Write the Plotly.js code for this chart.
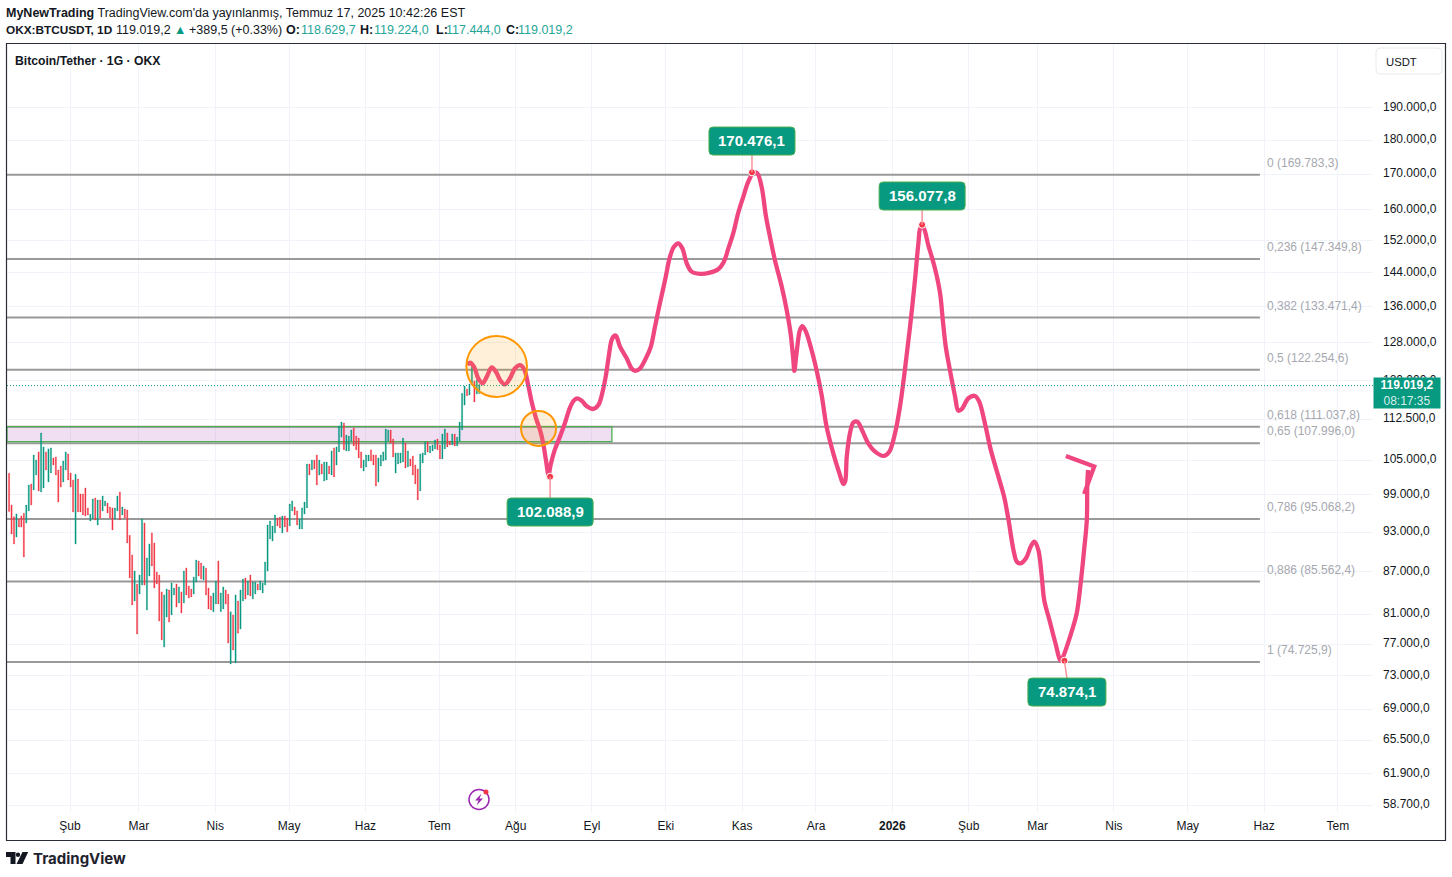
<!DOCTYPE html>
<html lang="tr"><head><meta charset="utf-8">
<script src="https://cdn.plot.ly/plotly-3.0.1.min.js"></script>
<style>html,body{margin:0;padding:0;background:#fff}#c{width:1452px;height:877px}</style></head>
<body><div id="c"></div>
<script>
const FONT = '"Liberation Sans", Arial, sans-serif';
const UP = '#089981', DOWN = '#F23645', PINK = '#EF4680', ORANGE = '#FF9800';

// Daily candles, first bar 2025-01-07, one per day
const firstBar = Date.UTC(2025, 0, 7, 6);
const highs = [102690,97340,95450,95880,95020,95560,95990,97340,100680,100850,
105900,105010,106450,109900,107350,106450,106990,107170,105370,105550,
103260,103950,104830,106450,106090,102740,101530,102520,101700,99170,
99170,100170,96860,95830,98330,98500,98170,98170,98840,98000,
97670,97020,96860,96860,98840,99500,97020,96700,96530,92490,
89480,87100,85210,86510,95070,94430,89030,91160,92870,91310,
86950,86510,84080,83650,84500,84360,85350,84640,85210,84780,
84080,87100,87540,84920,84500,86220,88710,88560,88270,87840,
87540,84640,83510,83940,85640,88560,83940,84780,84360,83790,
81300,80880,83650,82800,
84360,85930,86080,85640,86510,85490,85490,85210,85640,85350,
88420,94120,94750,93960,95720,95230,95390,95560,95560,95230,
97500,98000,97020,96370,95070,96860,97830,104300,104300,105000,
105000,105900,105000,104300,104650,104650,103950,106630,107170,107350,
111200,111940,111750,109500,109320,110450,110820,109320,108960,106450,105000,
105900,105900,106810,105900,105900,105370,105900,106450,110640,110450,
110450,108780,106270,106270,106270,108960,108060,106630,105190,105720,
104130,103430,106090,106270,108240,108240,107530,107710,108600,108780,
107710,109700,110640,109900,108420,109700,109700,109130,111940,117480,
118950,118360,119330,123230,119940,120150,119224];
const lows = [96260,92690,91160,92240,93810,93810,89180,94430,96370,97340,
99840,102390,99670,99500,100170,103260,101180,102740,104130,102390,
97830,100350,101180,103260,101530,100350,96200,91160,96200,96200,
95720,95560,95720,94750,95070,94910,94120,95230,96370,97180,
96040,95230,93340,95070,96370,94910,95720,95230,91310,86080,
82250,82800,78330,83790,85070,85070,81570,86370,87840,84640,
85210,80060,77530,76630,80600,79920,80880,83650,81970,82520,
81160,82520,83650,83230,83370,83790,85490,86370,85930,85780,
83650,81700,81570,81300,82380,82380,81300,81700,82380,77140,
74480,76240,74600,78440,
79000,82800,83090,83650,83510,83090,83790,84360,84360,83940,
85070,87100,91930,91620,92870,93960,93650,92870,93810,93030,
93960,96370,95720,94120,93500,93500,95880,96860,102390,103260,
103430,100680,102390,102560,101350,101530,102560,102390,102050,104130,
106450,109130,106810,106630,106630,108420,107530,106810,105370,103610,103080,
103780,104830,104830,104130,100510,101180,103950,104830,105000,108420,
108060,105550,102740,104300,104480,104650,103610,103780,103950,102390,
100850,98170,99670,104480,105900,106450,106270,106630,106990,106810,
105190,105190,106990,107350,107710,107710,107530,107530,108420,110450,
115190,116990,117170,119130,115780,117340,117444];
const barColors = 'RRRGRRRGGR'+'GGRGGRGGRR'+'RRGGRRRGRR'+'RRRGGRGRGG'+'RRRGGRGRRR'+'RGRGGRGGRR'+'RRRGGRGGRG'+'RGRRRGGRRG'+'RRRGGRGGRR'+'GRGR'
 +'GGRGRGGRGG'+'GGGGGRRGRR'
 +'GGRRGGGGRG'+'RRGRGGRGRG'+'GGRGGGRRRRG'
 +'GGRRRGGGGG'+'RRGGGGRGRR'+'RRGGGRGGGR'
 +'RGGRRGRGGG'+'GRGGRGG';

// Hand-drawn forecast path: days after 2025-02-01 and price
const curveDays = [161.4,162.5,164.1,165.8,167.6,169.3,171.3,173.0,174.9,176.7,178.7,180.7,182.8,184.5,186.1,187.5,189.3,190.9,192.2,193.3,194.4,
195.2,196.9,199.0,201.0,203.0,204.6,206.0,207.8,209.8,212.5,214.6,216.3,217.7,219.0,220.0,221.1,221.8,223.4,226.1,228.1,229.6,231.5,233.9,235.9,237.6,239.6,241.7,243.7,245.3,247.1,248.7,250.5,252.5,255.9,259.9,263.3,265.6,267.4,269.4,271.4,273.5,275.5,277.5,279.1,280.9,282.7,284.3,286.3,289.1,291.1,292.7,293.8,294.2,
295.1,296.5,297.5,298.9,301.2,303.5,305.3,307.3,310.0,312.5,314.1,314.8,315.5,316.8,318.2,319.8,322.0,324.2,327.0,330.6,332.8,335.1,337.1,339.1,341.2,343.2,344.6,345.5,346.6,348.6,351.3,353.4,354.5,355.7,357.4,359.5,360.8,362.2,364.9,367.6,369.3,371.6,374.0,377.1,379.4,381.2,383.2,384.6,386.1,388.3,390.2,391.7,393.3,394.7,395.7,398.0,400.1,402.4,403.4,406.2,408.9,410.5,411.9,413.0,413.2,413.5];
const curvePrices = [123210,123700,122850,120500,119480,120830,122720,121820,120000,119270,120500,122510,123210,122300,119130,115840,112650,110460,108000,105010,102390,
104130,106810,109200,111700,114600,116040,116500,116040,115000,114430,115190,117750,121170,125690,128530,129470,129400,127100,124630,122510,122020,122510,124630,127060,131420,136710,142190,147900,150380,151260,150000,146250,144210,143680,143970,144800,146650,149960,153860,159180,163640,167800,170250,170250,166420,158220,152980,147070,140600,135150,129920,124270,122020,
125700,130720,131570,130340,126390,121550,117140,111070,106220,102690,100850,101230,105600,109850,111880,112000,110120,108000,106500,105730,106500,109850,114850,122200,131420,142190,151260,155300,155300,150820,145040,139060,132930,127090,122160,116830,114110,114380,116510,116970,115840,111700,106810,102100,98720,94910,90240,88460,88220,88980,90730,91510,90240,86270,82940,79960,77310,74890,75400,77970,81110,85300,90240,94910,100960,103250];
const arrowDays = [411.9,416.0,404.5];
const arrowPrices = [99170,103840,105720];

// Fibonacci retracement
const fibLevels = ['0','0,236','0,382','0,5','0,618','0,65','0,786','0,886','1'];
const fibPrices = [169783.3,147349.8,133471.4,122254.6,111037.8,107996.0,95068.2,85562.4,74725.9];
const fibLabels = ['169.783,3','147.349,8','133.471,4','122.254,6','111.037,8','107.996,0','95.068,2','85.562,4','74.725,9'];

// Pivot callouts
const pivotDays = [277.0,346.1,195.0,403.9];
const pivotPrices = [170476.1,156077.8,102088.9,74874.1];
const pivotLabels = ['170.476,1','156.077,8','102.088,9','74.874,1'];

// Axes
const monthDates = ['2025-02-01','2025-03-01','2025-04-01','2025-05-01','2025-06-01','2025-07-01','2025-08-01','2025-09-01','2025-10-01','2025-11-01','2025-12-01','2026-01-01','2026-02-01','2026-03-01','2026-04-01','2026-05-01','2026-06-01','2026-07-01'];
const monthLabels = ['Şub','Mar','Nis','May','Haz','Tem','Ağu','Eyl','Eki','Kas','Ara','<b>2026</b>','Şub','Mar','Nis','May','Haz','Tem'];
const priceTicks = [190000,180000,170000,160000,152000,144000,136000,128000,120000,112500,105000,99000,93000,87000,81000,77000,73000,69000,65500,61900,58700];
const priceLabels = ['190.000,0','180.000,0','170.000,0','160.000,0','152.000,0','144.000,0','136.000,0','128.000,0','120.000,0','112.500,0','105.000,0','99.000,0','93.000,0','87.000,0','81.000,0','77.000,0','73.000,0','69.000,0','65.500,0','61.900,0','58.700,0'];
const lastPrice = 119019.2;

const dayToDate = d => new Date(Date.UTC(2025,1,1) + d*864e5).toISOString().slice(0,19).replace('T',' ');
const barDates = highs.map((_,i) => new Date(firstBar + i*864e5).toISOString().slice(0,19).replace('T',' '));
const opens = highs.map((h,i) => barColors[i]==='G' ? lows[i] : h);
const closes = highs.map((h,i) => barColors[i]==='G' ? h : lows[i]);

const L=7,T=44,R=1373,B=812;
const px = x => (x-L)/(R-L), py = y => (B-y)/(B-T);
const xRange = [dayToDate(-25.59), dayToDate(529.24)];
const yRange = [Math.log10(58033), Math.log10(211620)];
const fibEnd = dayToDate(483.3);

const traces = [
 {type:'candlestick',x:barDates,open:opens,high:highs,low:lows,close:closes,whiskerwidth:0,
  increasing:{line:{color:UP,width:0.3},fillcolor:UP},decreasing:{line:{color:DOWN,width:0.3},fillcolor:DOWN},hoverinfo:'skip'},
 {type:'scatter',mode:'lines',x:curveDays.map(dayToDate),y:curvePrices,line:{color:PINK,width:4.3,shape:'spline',smoothing:1},hoverinfo:'skip'},
 {type:'scatter',mode:'lines',x:arrowDays.map(dayToDate),y:arrowPrices,line:{color:PINK,width:4.3},hoverinfo:'skip'},
 {type:'scatter',mode:'markers',x:pivotDays.map(dayToDate),y:pivotPrices,marker:{color:DOWN,size:7,line:{color:'#fff',width:1}},hoverinfo:'skip'}
];

const shapes = fibPrices.map(p=>({type:'line',layer:'between',xref:'x',yref:'y',x0:xRange[0],x1:fibEnd,y0:p,y1:p,line:{color:'#999999',width:2}}));
shapes.push(
 {type:'rect',layer:'between',xref:'x',yref:'y',x0:xRange[0],x1:dayToDate(220.1),y0:108300,y1:111070,fillcolor:'rgba(156,39,176,0.15)',line:{color:'#4CAF50',width:1.3}},
 {type:'line',layer:'above',xref:'x',yref:'y',x0:xRange[0],x1:xRange[1],y0:lastPrice,y1:lastPrice,line:{color:UP,width:1,dash:'1px,2px'}},
 {type:'circle',layer:'above',xref:'x',yref:'y',x0:dayToDate(161),x1:dayToDate(185.6),y0:116770,y1:129410,fillcolor:'rgba(255,152,0,0.15)',line:{color:ORANGE,width:2}},
 {type:'circle',layer:'above',xref:'x',yref:'y',x0:dayToDate(183.2),x1:dayToDate(197.4),y0:107530,y1:114050,fillcolor:'rgba(255,152,0,0.15)',line:{color:ORANGE,width:2}},
 {type:'rect',xref:'paper',yref:'paper',x0:px(6.5),x1:px(1445.5),y0:py(840.5),y1:py(43.5),line:{color:'#2A2E39',width:1.2},fillcolor:'rgba(0,0,0,0)',layer:'above'}
);

// rounded callout boxes anchored on their pivot through the axes
function rr(x0,y0,x1,y1,r){return `M${x0+r},${y0} L${x1-r},${y0} Q${x1},${y0} ${x1},${y0+r} L${x1},${y1-r} Q${x1},${y1} ${x1-r},${y1} L${x0+r},${y1} Q${x0},${y1} ${x0},${y1-r} L${x0},${y0+r} Q${x0},${y0} ${x0+r},${y0} Z`;}
const boxes = [[-43,17.3,43,45.3],[-43,14.7,43,42.7],[-43,-49.3,43,-21.3],[-36.5,-45.3,41.5,-17.3]];
boxes.forEach((b,i)=>{
 const d=pivotDays[i],p=pivotPrices[i];
 const cx=(b[0]+b[2])/2;
 const edge=b[1]>0?b[1]:b[3];
 shapes.push({type:'path',layer:'above',xref:'x',yref:'y',xsizemode:'pixel',ysizemode:'pixel',xanchor:dayToDate(d),yanchor:p,
   path:`M0,0 L${cx},${edge}`,line:{color:'#F7929C',width:1.5}});
 shapes.push({type:'path',layer:'above',xref:'x',yref:'y',xsizemode:'pixel',ysizemode:'pixel',xanchor:dayToDate(d),yanchor:p,
   path:rr(b[0],b[1],b[2],b[3],4),fillcolor:UP,line:{color:'#4CAF50',width:1}});
});

// logo and event icon
shapes.push(
 {type:'path',xref:'paper',yref:'paper',layer:'above',fillcolor:'#131722',line:{width:0},
  path:`M${px(6)},${py(852)} L${px(15.5)},${py(852)} L${px(15.5)},${py(864)} L${px(10.5)},${py(864)} L${px(10.5)},${py(857)} L${px(6)},${py(857)} Z`},
 {type:'circle',xref:'paper',yref:'paper',layer:'above',fillcolor:'#131722',line:{width:0},x0:px(15.8),x1:px(20.2),y0:py(857),y1:py(852.4)},
 {type:'path',xref:'paper',yref:'paper',layer:'above',fillcolor:'#131722',line:{width:0},
  path:`M${px(22.5)},${py(852)} L${px(28.2)},${py(852)} L${px(22.5)},${py(864)} L${px(16.5)},${py(864)} Z`},
 {type:'circle',xref:'paper',yref:'paper',layer:'above',fillcolor:'#fff',line:{color:'#9C27B0',width:1.5},x0:px(469),x1:px(489),y0:py(809.5),y1:py(789.5)},
 {type:'path',xref:'paper',yref:'paper',layer:'above',fillcolor:'#9C27B0',line:{width:0},
  path:`M${px(481.5)},${py(793.5)} L${px(475)},${py(800.5)} L${px(478.5)},${py(800.5)} L${px(476.5)},${py(805.5)} L${px(483)},${py(798.5)} L${px(479.5)},${py(798.5)} Z`},
 {type:'circle',xref:'paper',yref:'paper',layer:'above',fillcolor:DOWN,line:{width:0},x0:px(483.5),x1:px(488.5),y0:py(794.5),y1:py(789.5)},
 {type:'path',xref:'paper',yref:'paper',layer:'above',fillcolor:'#fff',line:{color:'#E8EAEE',width:1},
  path:`M${px(1380)},${py(48)} L${px(1438)},${py(48)} Q${px(1442)},${py(48)} ${px(1442)},${py(52)} L${px(1442)},${py(70)} Q${px(1442)},${py(74)} ${px(1438)},${py(74)} L${px(1380)},${py(74)} Q${px(1376)},${py(74)} ${px(1376)},${py(70)} L${px(1376)},${py(52)} Q${px(1376)},${py(48)} ${px(1380)},${py(48)} Z`}
);

const txt=(x,y,text,opt={})=>Object.assign({xref:'paper',yref:'paper',x:px(x),y:py(y),text,showarrow:false,xanchor:'left',yanchor:'middle',align:'left',font:{family:FONT,size:12.5,color:'#131722'}},opt);
const TEAL='#26A69A';
const tealF={font:{family:FONT,size:12.5,color:TEAL}};
const annotations = [
 txt(4,12.5,"<b>MyNewTrading</b> TradingView.com'da yayınlanmış, Temmuz 17, 2025 10:42:26 EST"),
 txt(4,29.5,'<b>OKX:BTCUSDT, 1D</b>',{font:{family:FONT,size:11.8,color:'#131722'}}),
 txt(113.5,29.5,'119.019,2'),
 txt(172,29.5,'▲',{font:{family:FONT,size:12.5,color:UP}}),
 txt(187,29.5,'+389,5 (+0.33%)'),
 txt(284,29.5,'<b>O:</b>'),txt(298.5,29.5,'118.629,7',tealF),
 txt(358.5,29.5,'<b>H:</b>'),txt(372,29.5,'119.224,0',tealF),
 txt(433.5,29.5,'<b>L:</b>'),txt(444,29.5,'117.444,0',tealF),
 txt(504,29.5,'<b>C:</b>'),txt(515.5,29.5,'119.019,2',tealF),
 txt(13,60.5,'<b>Bitcoin/Tether · 1G · OKX</b>',{font:{family:FONT,size:12.2,color:'#131722'}}),
 txt(1384,61.5,'USDT',{font:{family:FONT,size:11.3,color:'#131722'}}),
 txt(31,858,'<b>TradingView</b>',{font:{family:'Inter, '+FONT,size:15,color:'#1E222D'}}),
 {xref:'paper',yref:'paper',x:px(1407),y:py(393),text:'<b>119.019,2</b><br><span style="color:#D5EFEA">08:17:35</span>',showarrow:false,xanchor:'center',yanchor:'middle',align:'center',
  width:66,height:30,bgcolor:UP,borderpad:0,font:{family:FONT,size:12,color:'#fff'}}
];
fibLevels.forEach((lv,i)=>annotations.push({xref:'x',yref:'y',x:dayToDate(485.4),y:Math.log10(fibPrices[i]),yshift:12,showarrow:false,xanchor:'left',yanchor:'middle',
  text:`${lv} (${fibLabels[i]})`,font:{family:FONT,size:12,color:'#A6A8AF'}}));
const shifts=[[0,32.3],[0,29.7],[0,-34.3],[2.5,-30.3]];
pivotLabels.forEach((t,i)=>annotations.push({xref:'x',yref:'y',x:dayToDate(pivotDays[i]),y:Math.log10(pivotPrices[i]),xshift:shifts[i][0],yshift:shifts[i][1],showarrow:false,xanchor:'center',yanchor:'middle',
  text:`<b>${t}</b>`,font:{family:FONT,size:15,color:'#fff'}}));

const layout = {
 width:1452,height:877,margin:{l:L,r:1452-R,t:T,b:877-B,pad:0},paper_bgcolor:'#fff',plot_bgcolor:'#fff',showlegend:false,hovermode:false,dragmode:false,
 font:{family:FONT,size:12,color:'#131722'},
 xaxis:{type:'date',range:xRange,tickmode:'array',tickvals:monthDates,ticktext:monthLabels,showgrid:true,gridcolor:'#F0F3FA',gridwidth:1,zeroline:false,showline:false,ticks:'',ticklabelstandoff:5,rangeslider:{visible:false},tickangle:0,tickfont:{family:FONT,size:12,color:'#131722'}},
 yaxis:{type:'log',side:'right',range:yRange,tickmode:'array',tickvals:priceTicks,ticktext:priceLabels,showgrid:true,gridcolor:'#F0F3FA',gridwidth:1,zeroline:false,showline:false,ticks:'',ticklabelstandoff:9,ticklabelshift:-1,tickfont:{family:FONT,size:12,color:'#131722'}},
 shapes,annotations
};
Plotly.newPlot('c',traces,layout,{staticPlot:true,displayModeBar:false});
</script></body></html>
